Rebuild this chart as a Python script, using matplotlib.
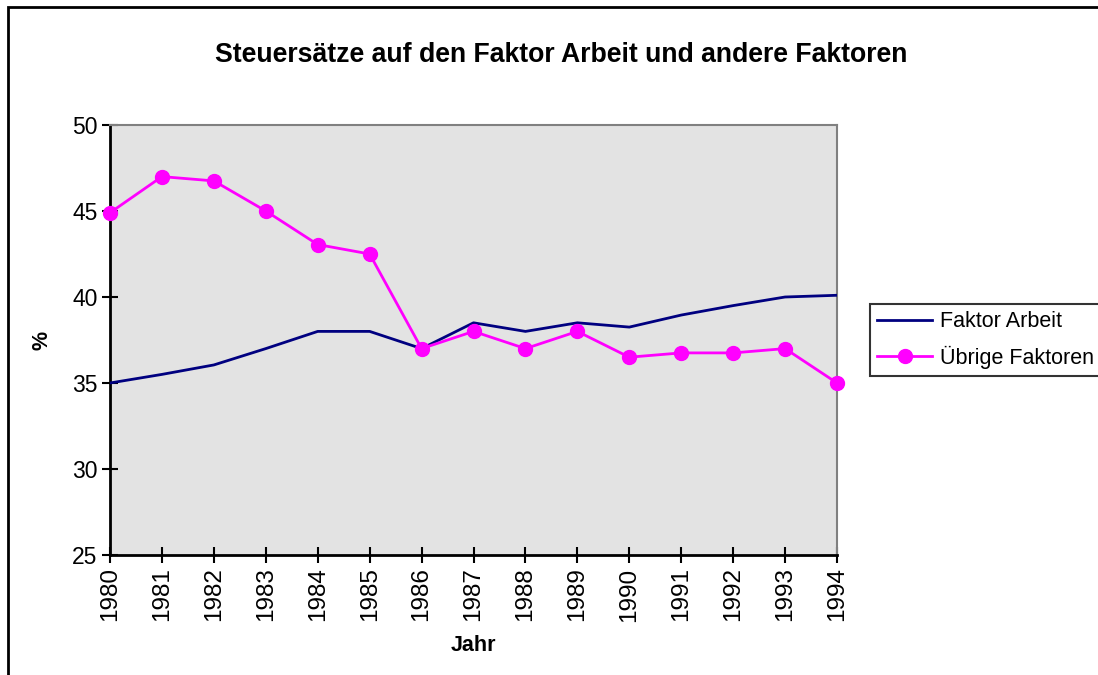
import matplotlib.pyplot as plt
from matplotlib.patches import Rectangle

# Data
years = [1980, 1981, 1982, 1983, 1984, 1985, 1986, 1987,
         1988, 1989, 1990, 1991, 1992, 1993, 1994]
faktor_arbeit = [35.0, 35.5, 36.05, 37.0, 38.0, 38.0, 37.0, 38.5,
                 38.0, 38.5, 38.25, 38.95, 39.5, 40.0, 40.1]
uebrige_faktoren = [44.9, 47.0, 46.75, 45.0, 43.05, 42.5, 37.0, 38.0,
                    37.0, 38.0, 36.5, 36.75, 36.75, 37.0, 35.0]
y_ticks = [25, 30, 35, 40, 45, 50]

plt.rcParams["font.family"] = ["Liberation Sans", "DejaVu Sans"]

fig = plt.figure(figsize=(10.98, 6.75), dpi=100)
ax = fig.add_axes([0.1002, 0.1778, 0.6621, 0.637])

ax.set_facecolor("#E3E3E3")
ax.plot(years, faktor_arbeit, color="#000080", linewidth=2, label="Faktor Arbeit", zorder=3)
ax.plot(years, uebrige_faktoren, color="#FF00FF", linewidth=2, marker="o", markersize=10,
        label="Übrige Faktoren", zorder=4, clip_on=False)

ax.set_xlim(1980, 1994)
ax.set_ylim(25, 50)
ax.set_xticks(years)
ax.set_xticklabels([str(y) for y in years], rotation=90, fontsize=17.5)
ax.set_yticks(y_ticks)
ax.set_yticklabels([str(t) for t in y_ticks], fontsize=16.5)
ax.tick_params(axis="both", direction="inout", length=12, width=1.5, color="black", pad=3)

for side in ["top", "right"]:
    ax.spines[side].set_color("#808080")
    ax.spines[side].set_linewidth(1.5)
for side in ["left", "bottom"]:
    ax.spines[side].set_color("black")
    ax.spines[side].set_linewidth(2)

ax.set_xlabel("Jahr", fontsize=15.5, fontweight="bold", labelpad=10)
ax.set_ylabel("%", fontsize=15.5, fontweight="bold", labelpad=14)

fig.text(0.511, 0.918, "Steuersätze auf den Faktor Arbeit und andere Faktoren",
         ha="center", va="center", fontsize=19.2, fontweight="bold")

leg = ax.legend(loc="center left", bbox_to_anchor=(1.045, 0.5), borderaxespad=0,
                fontsize=15.5, frameon=True, fancybox=False, edgecolor="black",
                borderpad=0.36, handlelength=2.55, labelspacing=0.6, handletextpad=0.37)
leg.get_frame().set_linewidth(1.5)

# outer chart border
fig.patches.append(Rectangle((8 / 1098, -0.01), 1.1, 1 - 7 / 675 + 0.01, transform=fig.transFigure,
                             fill=False, edgecolor="black", linewidth=2, zorder=0))

fig.savefig("out.png", dpi=100)
